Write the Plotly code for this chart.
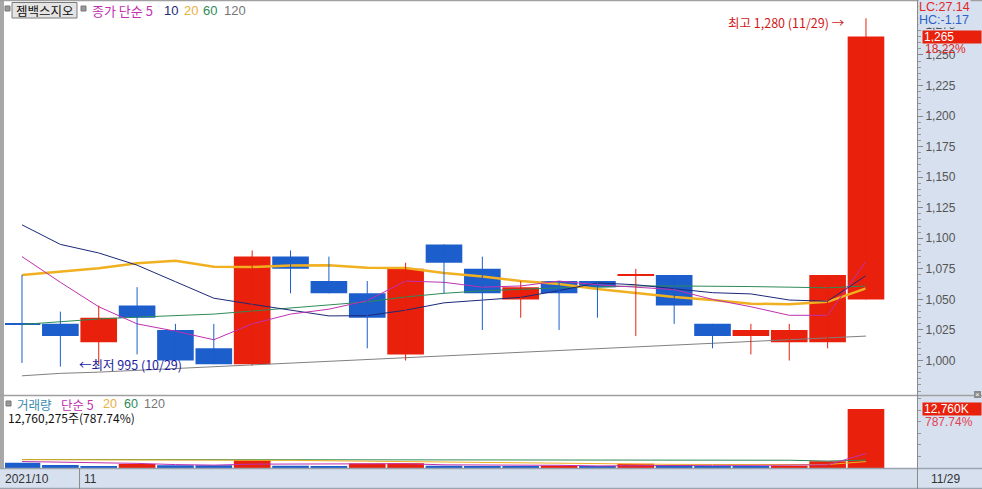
import plotly.graph_objects as go

# ---------------- data ----------------
dates = ["2021/10/28", "2021/10/29", "2021/11/01", "2021/11/02", "2021/11/03", "2021/11/04",
         "2021/11/05", "2021/11/08", "2021/11/09", "2021/11/10", "2021/11/11", "2021/11/12",
         "2021/11/15", "2021/11/16", "2021/11/17", "2021/11/18", "2021/11/19", "2021/11/22",
         "2021/11/23", "2021/11/24", "2021/11/25", "2021/11/26", "2021/11/29"]
opens = [1030, 1030, 1015, 1045, 1025, 1010, 997, 1085, 1065, 1055, 1005, 1095,
         1075, 1050, 1065, 1065, 1070, 1070, 1030, 1020, 1015, 1015, 1050]
highs = [1070, 1040, 1045, 1060, 1030, 1030, 1090, 1090, 1085, 1065, 1080, 1095,
         1085, 1065, 1065, 1065, 1075, 1070, 1030, 1030, 1030, 1070, 1280]
lows = [998, 995, 997, 1005, 1000, 997, 996, 1055, 1055, 1010, 1000, 1055,
        1025, 1035, 1025, 1035, 1020, 1030, 1010, 1005, 1000, 1010, 1050]
closes = [1030, 1020, 1035, 1035, 1000, 997, 1085, 1075, 1055, 1035, 1075, 1080,
          1055, 1060, 1055, 1060, 1070, 1045, 1020, 1025, 1025, 1070, 1265]
volumes = [1150000, 650000, 450000, 860000, 580000, 570000, 1700000, 500000, 420000,
           950000, 1050000, 500000, 450000, 420000, 480000, 400000, 900000, 650000,
           450000, 420000, 500000, 1437390, 12760275]

# price moving averages (5, 10, 20, 60, 120)
ma5 = [1085, 1064, 1044, 1030, 1024, 1017, 1030, 1038, 1042, 1049, 1065, 1064,
       1060, 1061, 1065, 1062, 1060, 1058, 1050, 1044, 1037, 1037, 1081]
ma10 = [1111, 1095, 1088, 1078, 1064.5, 1051, 1046, 1041, 1036.5, 1036.7, 1041.2, 1047.2,
        1049.2, 1051.7, 1057.2, 1063.5, 1062, 1059, 1055.5, 1054.5, 1049.5, 1048.5, 1069.5]
ma20 = [1070, 1072.4, 1075.4, 1079.5, 1081.7, 1076.7, 1076.5, 1077.7, 1078, 1076, 1075.7, 1071.6,
        1068.7, 1065, 1062.6, 1058.5, 1055, 1052, 1049.5, 1046.5, 1046, 1048, 1059]
ma60 = [1029.5, 1032, 1034, 1035.5, 1036.5, 1038, 1040.5, 1043, 1045, 1048, 1052, 1055,
        1057, 1058.5, 1059.5, 1060, 1061, 1061, 1061, 1060.5, 1060, 1059.5, 1061]
ma120 = [987.5, 989.5, 990.5, 992, 993.5, 995, 996.5, 998, 999.5, 1001, 1002.5, 1004,
         1005.5, 1007, 1008.5, 1010, 1011.5, 1013, 1014.5, 1016, 1017.5, 1019, 1020]

# volume moving averages (5, 20, 60)
vma5 = [1400000, 1300000, 1200000, 1000000, 738000, 622000, 832000, 842000, 754000, 828000,
        924000, 684000, 674000, 674000, 580000, 450000, 530000, 570000, 576000, 564000,
        584000, 691000, 3113000]
vma20 = [1800000, 1790000, 1770000, 1750000, 1735000, 1730000, 1730000, 1660000, 1560000,
         1460000, 1360000, 1260000, 1160000, 1060000, 960000, 880000, 820000, 780000,
         760000, 740000, 720000, 760000, 1380000]
vma60 = [1840000, 1840000, 1840000, 1840000, 1840000, 1840000, 1835000, 1830000, 1820000,
         1810000, 1800000, 1790000, 1780000, 1770000, 1760000, 1740000, 1720000, 1700000,
         1690000, 1690000, 1680000, 1500000, 1700000]

price_ticks = list(range(1000, 1300, 25))
month_labels = ["2021/10", "11"]
month_start = [0, 2]
stock_name = "젬백스지오"

# ---------------- styles ----------------
RED = "#e8200c"
BLUE = "#1c5ecb"
C5, C10, C20, C60, C120 = "#c030b0", "#1c2878", "#f0b020", "#2e8b57", "#808080"
AXBG = "#d7e0ee"
GRID = "#a0a0a0"
FONT = "Liberation Sans, Noto Sans CJK KR, sans-serif"
KFONT = "Noto Sans CJK KR, sans-serif"

W, H = 982, 489
L, R, T, B = 5, 65, 2, 21
PW, PH = W - L - R, H - T - B


def px(x):
    return (x - L) / PW


def py(y):
    return (H - B - y) / PH


n = len(dates)
idx = list(range(n))

# candle colors (red: up, blue: down; doji -> compare previous close)
ccol = []
for i in range(n):
    if closes[i] > opens[i]:
        ccol.append(RED)
    elif closes[i] < opens[i]:
        ccol.append(BLUE)
    else:
        ccol.append(RED if i > 0 and closes[i] > closes[i - 1] else BLUE)
body_base = [min(o, c) if o != c else o - 0.45 for o, c in zip(opens, closes)]
body_h = [abs(c - o) if o != c else 0.9 for o, c in zip(opens, closes)]

vcol = [BLUE] + [RED if volumes[i] > volumes[i - 1] else BLUE for i in range(1, n)]

fig = go.Figure()

# price MAs (behind candles)
for vals, col, w in [(ma120, C120, 1), (ma60, C60, 1), (ma20, C20, 2.5), (ma10, C10, 1), (ma5, C5, 1)]:
    fig.add_trace(go.Scatter(x=idx, y=vals, mode="lines", line=dict(color=col, width=w),
                             xaxis="x", yaxis="y", hoverinfo="skip"))

# wicks
for col in (RED, BLUE):
    wx, wy = [], []
    for i in range(n):
        if ccol[i] == col:
            wx += [i, i, None]
            wy += [lows[i], highs[i], None]
    fig.add_trace(go.Scatter(x=wx, y=wy, mode="lines", line=dict(color=col, width=1),
                             xaxis="x", yaxis="y", hoverinfo="skip"))

# bodies
fig.add_trace(go.Bar(x=idx, y=body_h, base=body_base, width=0.955, marker_color=ccol,
                     marker_line_width=0, xaxis="x", yaxis="y", hoverinfo="skip"))

# volume
fig.add_trace(go.Bar(x=idx, y=volumes, width=0.955, marker_color=vcol, marker_line_width=0,
                     xaxis="x2", yaxis="y2", hoverinfo="skip"))
for vals, col in [(vma60, C60), (vma20, C20), (vma5, C5)]:
    fig.add_trace(go.Scatter(x=idx, y=vals, mode="lines", line=dict(color=col, width=1),
                             xaxis="x2", yaxis="y2", hoverinfo="skip"))

xr = [-0.443, 23.33]
price_dom = [py(395), 1.0]
vol_dom = [0.0, py(397)]

fig.update_layout(
    width=W, height=H, margin=dict(l=L, r=R, t=T, b=B),
    paper_bgcolor="white", plot_bgcolor="white", showlegend=False,
    barmode="overlay", font=dict(family=FONT, size=12, color="#444"),
    xaxis=dict(domain=[0, 1], range=xr, anchor="y", showticklabels=False, showgrid=False,
               zeroline=False, ticks=""),
    xaxis2=dict(domain=[0, 1], range=xr, anchor="y2", matches="x", showticklabels=False,
                showgrid=False, zeroline=False, ticks=""),
    yaxis=dict(domain=price_dom, range=[971.8, 1293.3], side="right", showgrid=False,
               zeroline=False, tickmode="array", tickvals=price_ticks, tickformat=",d",
               ticks="outside", ticklen=5, tickcolor="#888", tickwidth=1,
               tickfont=dict(family=FONT, size=12, color="#555"),
               minor=dict(ticks="outside", ticklen=3, tickcolor="#999", tick0=1000, dtick=5),
               anchor="x"),
    yaxis2=dict(domain=vol_dom, range=[0, 15356000], side="right", showgrid=False,
                zeroline=False, showticklabels=False, ticks="outside", ticklen=3,
                tickcolor="#999", tick0=0, dtick=2500000, anchor="x2"),
)

shapes = []
# right axis background and bottom date strip
shapes.append(dict(type="rect", xref="paper", yref="paper", x0=px(917), x1=px(982), y0=py(468), y1=py(0),
                   fillcolor=AXBG, line=dict(width=0), layer="below"))
shapes.append(dict(type="rect", xref="paper", yref="paper", x0=px(0), x1=px(982), y0=py(489), y1=py(468),
                   fillcolor=AXBG, line=dict(width=0), layer="below"))
# left border
shapes.append(dict(type="rect", xref="paper", yref="paper", x0=px(0), x1=px(4), y0=py(468), y1=py(0),
                   fillcolor="#a8a8a8", line=dict(width=0)))
# horizontal lines
for yy, c in [(0.7, GRID), (395.5, GRID), (468.5, "#9aa4b0"), (488.3, "#9aa4b0")]:
    shapes.append(dict(type="line", xref="paper", yref="paper", x0=px(0), x1=px(982), y0=py(yy), y1=py(yy),
                       line=dict(color=c, width=1.3)))
# right axis line
shapes.append(dict(type="line", xref="paper", yref="paper", x0=px(917.5), x1=px(917.5), y0=py(489), y1=py(0),
                   line=dict(color="#8a8a8a", width=1)))
# month separators in date strip
for ms in month_start[1:]:
    shapes.append(dict(type="line", xref="x", yref="paper", x0=ms - 0.5, x1=ms - 0.5, y0=py(489), y1=py(468),
                       line=dict(color="#8a8a8a", width=1)))
# legend squares and name button
for sx, sy in [(5, 6), (81, 6), (6, 401)]:
    shapes.append(dict(type="rect", xref="paper", yref="paper", x0=px(sx), x1=px(sx + 5), y0=py(sy + 5), y1=py(sy),
                       fillcolor="#9a9a9a", line=dict(color="#777", width=1)))
shapes.append(dict(type="rect", xref="paper", yref="paper", x0=px(12), x1=px(77), y0=py(18), y1=py(2.5),
                   fillcolor="#e4e4e4", line=dict(color="#7a7a7a", width=1)))
# close icon on volume pane
shapes.append(dict(type="rect", xref="paper", yref="paper", x0=px(974), x1=px(981), y0=py(398), y1=py(391),
                   fillcolor="#8a8a8a", line=dict(width=0)))
fig.update_layout(shapes=shapes)

ann = []


def A(x, y, text, color="#333", size=12, xanchor="left", family=KFONT, **kw):
    d = dict(x=px(x), y=py(y), xref="paper", yref="paper", text=text, showarrow=False,
             xanchor=xanchor, yanchor="middle", font=dict(family=family, size=size, color=color))
    d.update(kw)
    ann.append(d)


# price legend
A(44.5, 10.5, stock_name, "#111", 12.5, xanchor="center")
A(90, 10.5, "종가 단순 5", C5, 13)
A(162, 10.5, "10", C10, 13, family=FONT)
A(182, 10.5, "20", "#e8b040", 13, family=FONT)
A(201, 10.5, "60", C60, 13, family=FONT)
A(222, 10.5, "120", "#777", 13, family=FONT)

# volume legend
A(15, 404, "거래량", "#3a8bb0", 12.5)
A(59, 404, "단순 5", C5, 12.5)
A(101, 404, "20", "#e8b040", 12.5, family=FONT)
A(122, 404, "60", C60, 12.5, family=FONT)
A(142, 404, "120", "#777", 12.5, family=FONT)
vol_pct = (volumes[-1] / volumes[-2] - 1) * 100
A(6, 417, f"{volumes[-1]:,}주({vol_pct:.2f}%)", "#111", 12)

# highest / lowest markers
imax = highs.index(max(highs))
imin = lows.index(min(lows))
ann.append(dict(x=imax, y=highs[imax], xref="x", yref="y", xshift=-19, yshift=-4,
                text=f"최고 {highs[imax]:,} ({dates[imax][5:]}) →", showarrow=False,
                xanchor="right", yanchor="middle", font=dict(family=KFONT, size=12.5, color="#d01818")))
ann.append(dict(x=imin, y=lows[imin], xref="x", yref="y", xshift=17, yshift=2,
                text=f"←최저 {lows[imin]:,} ({dates[imin][5:]})", showarrow=False,
                xanchor="left", yanchor="middle", font=dict(family=KFONT, size=12.5, color="#1a1aa0")))

# right axis info
lc = (closes[-1] / min(lows) - 1) * 100
hc = (closes[-1] / max(highs) - 1) * 100
A(918, 7.5, f"LC:{lc:.2f}", "#e02828", 12.5, family=FONT, bgcolor=AXBG, borderpad=0)
A(918, 19.5, f"HC:{hc:.2f}", "#2a62c8", 12.5, family=FONT, bgcolor=AXBG, borderpad=0)
chg = (closes[-1] / closes[-2] - 1) * 100
ann.append(dict(x=px(922), y=closes[-1], xref="paper", yref="y", text=f"{closes[-1]:,}", showarrow=False,
                xanchor="left", yanchor="middle", align="left", width=56, height=10, borderpad=1,
                bgcolor=RED, font=dict(family=FONT, size=12, color="white")))
ann.append(dict(x=px(923), y=closes[-1], xref="paper", yref="y", yshift=-12, text=f"{chg:.2f}%",
                showarrow=False, xanchor="left", yanchor="middle",
                font=dict(family=FONT, size=12, color="#e02828")))
ann.append(dict(x=px(922), y=volumes[-1], xref="paper", yref="y2", text=f"{volumes[-1] / 1000:,.0f}K",
                showarrow=False, xanchor="left", yanchor="middle", align="left", width=56, height=10,
                borderpad=1, bgcolor=RED, font=dict(family=FONT, size=12, color="white")))
ann.append(dict(x=px(923), y=volumes[-1], xref="paper", yref="y2", yshift=-13, text=f"{vol_pct:.2f}%",
                showarrow=False, xanchor="left", yanchor="middle",
                font=dict(family=FONT, size=12, color="#e04050")))
A(977.5, 394.5, "×", "white", 8, xanchor="center", family=FONT)

# date strip labels
ann.append(dict(x=px(3), y=py(478.5), xref="paper", yref="paper", text=month_labels[0], showarrow=False,
                xanchor="left", yanchor="middle", font=dict(family=FONT, size=12, color="#333")))
for lab, ms in zip(month_labels[1:], month_start[1:]):
    ann.append(dict(x=ms - 0.5, y=py(478.5), xref="x", yref="paper", xshift=2, text=lab, showarrow=False,
                    xanchor="left", yanchor="middle", font=dict(family=FONT, size=12, color="#333")))
A(929, 478.5, dates[-1][5:], "#333", 12, family=FONT)

fig.update_layout(annotations=ann)
fig.write_html("out.html", config={"displayModeBar": False},
               post_script="document.body.style.margin='0';document.body.style.padding='0';"
                           "document.documentElement.style.overflow='hidden';")
